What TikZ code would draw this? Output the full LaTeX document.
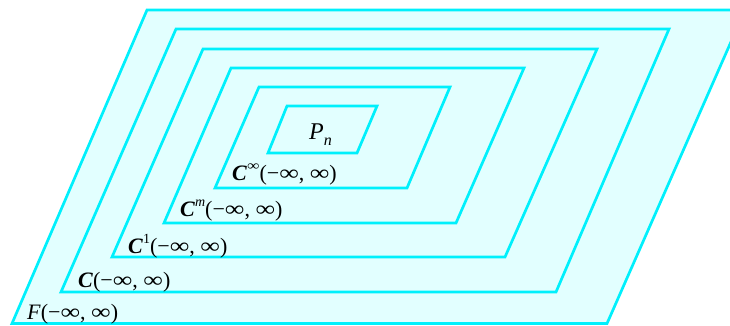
\documentclass[tikz,border=0pt]{standalone}
\usepackage{fontspec}
\setmainfont{Liberation Serif}
\definecolor{edgecyan}{RGB}{0,240,252}
\definecolor{fillcyan}{RGB}{226,255,255}
\newcommand{\Cbf}{\textbf{\textit{C}}}
\newcommand{\inft}{\scalebox{1.25}[1]{∞}}
\newcommand{\supx}[1]{\raisebox{0.42em}{\fontsize{14}{14}\selectfont #1}}
\newcommand{\rng}{(−\inft, \inft)}
\begin{document}
\begin{tikzpicture}[x=1pt,y=-1pt,
  region/.style={draw=edgecyan, fill=fillcyan, line width=2.7pt, line join=miter},
  lbl/.style={inner sep=0pt, anchor=base west, font=\fontsize{22}{26}\selectfont}]
\useasboundingbox (0,0) rectangle (730,325);
\begin{scope}
\clip (0,0) rectangle (730,325);
\draw[region] (147,10) -- (745,10) -- (607,323.5) -- (12,323.5) -- cycle;
\draw[region] (176,29) -- (669,29) -- (556,292) -- (61,292) -- cycle;
\draw[region] (203,49) -- (597,49) -- (505,257) -- (112,257) -- cycle;
\draw[region] (231,68) -- (524,68) -- (456,223) -- (164,223) -- cycle;
\draw[region] (259,87) -- (450,87) -- (407,188) -- (215,188) -- cycle;
\draw[region] (287,106) -- (377,106) -- (357,153) -- (268,153) -- cycle;
\end{scope}
\node[lbl] (f) at (27,319) {\textit{F}\rng};
\node[lbl] (c0) at (78,287) {\Cbf\rng};
\node[lbl] (c1) at (128,253) {\Cbf\supx{1}\rng};
\node[lbl] (cm) at (180,216) {\Cbf\supx{\textit{m}}\rng};
\node[lbl] (ci) at (232,180) {\Cbf\supx{\inft}\rng};
\node[lbl, font=\fontsize{24}{28}\selectfont] (pn) at (309,139) {\textit{P}\raisebox{-0.25em}{\fontsize{16}{16}\selectfont\textit{n}}};
\end{tikzpicture}
\end{document}
